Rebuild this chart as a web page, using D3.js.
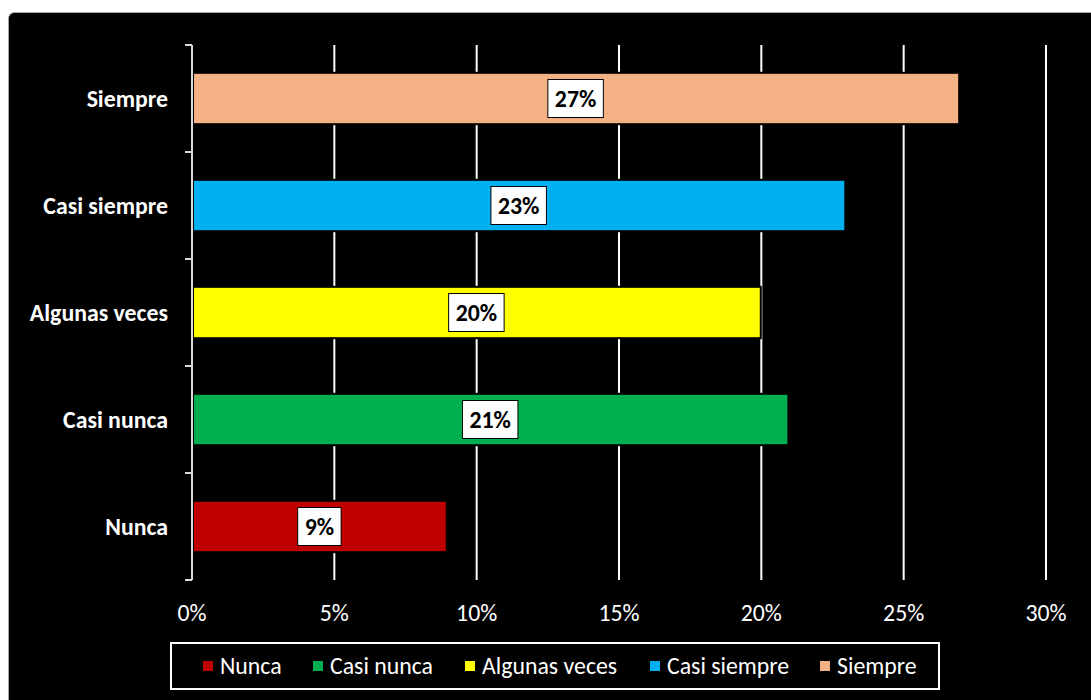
<!DOCTYPE html>
<html>
<head>
<meta charset="utf-8">
<script src="https://cdn.jsdelivr.net/npm/d3@7"></script>
<style>
  html, body { margin: 0; padding: 0; background: #fff; }
  svg { display: block; font-family: Carlito, Lato, sans-serif; }
</style>
</head>
<body>
<div id="chart"></div>
<script>
// data
const categories = ["Nunca", "Casi nunca", "Algunas veces", "Casi siempre", "Siempre"];
const values = [0.0895, 0.2095, 0.1998, 0.2295, 0.2695];
const colors = ["#C00000", "#00B050", "#FFFF00", "#00B0F0", "#F4B183"];
const xTicks = [0, 0.05, 0.10, 0.15, 0.20, 0.25, 0.30];

const W = 1091, H = 700;
const margin = {top: 45, right: 45, bottom: 120, left: 192};
const fontSize = 23.8;

const svg = d3.select("#chart").append("svg")
    .attr("width", W)
    .attr("height", H);

// black chart area
svg.append("rect")
    .attr("x", 8.5).attr("y", 12.5)
    .attr("width", W + 20).attr("height", H + 20)
    .attr("rx", 6)
    .attr("fill", "#000")
    .attr("stroke", "#a6a6a6")
    .attr("stroke-width", 1);

const x = d3.scaleLinear()
    .domain([0, 0.30])
    .range([margin.left, 1046]);

const y = d3.scaleBand()
    .domain(categories.slice().reverse())
    .range([margin.top, 580])
    .paddingInner(0.52)
    .paddingOuter(0.26);

const plot = svg.append("g");

// vertical gridlines
plot.append("g")
    .selectAll("line")
    .data(xTicks.slice(1))
    .join("line")
    .attr("x1", d => x(d)).attr("x2", d => x(d))
    .attr("y1", margin.top).attr("y2", 580)
    .attr("stroke", "#fff")
    .attr("stroke-width", 2);

// bars
plot.append("g")
    .selectAll("rect")
    .data(categories)
    .join("rect")
    .attr("x", x(0) + 1)
    .attr("y", d => y(d))
    .attr("width", (d, i) => x(values[i]) - x(0) - 1)
    .attr("height", y.bandwidth())
    .attr("fill", (d, i) => colors[i])
    .attr("stroke", "#000")
    .attr("stroke-width", 2);

// y axis line + ticks
const yAxis = plot.append("g");
yAxis.append("line")
    .attr("x1", x(0)).attr("x2", x(0))
    .attr("y1", margin.top).attr("y2", 580)
    .attr("stroke", "#d9d9d9").attr("stroke-width", 2);
const bounds = d3.range(categories.length + 1).map(i => 580 - i * (535 / categories.length));
yAxis.selectAll("line.tick")
    .data(bounds)
    .join("line")
    .attr("class", "tick")
    .attr("x1", x(0) - 7).attr("x2", x(0))
    .attr("y1", d => d).attr("y2", d => d)
    .attr("stroke", "#d9d9d9").attr("stroke-width", 2);

// category labels
yAxis.selectAll("text")
    .data(categories)
    .join("text")
    .attr("x", 168)
    .attr("y", d => y(d) + y.bandwidth() / 2)
    .attr("dy", "0.35em")
    .attr("text-anchor", "end")
    .attr("fill", "#fff")
    .attr("font-weight", "bold")
    .attr("font-size", fontSize)
    .text(d => d);

// x tick labels
plot.append("g")
    .selectAll("text")
    .data(xTicks)
    .join("text")
    .attr("x", d => x(d))
    .attr("y", 613)
    .attr("dy", "0.35em")
    .attr("text-anchor", "middle")
    .attr("fill", "#fff")
    .attr("font-size", fontSize)
    .text(d => d3.format(".0%")(d));

// value labels
const lab = plot.append("g")
    .selectAll("g")
    .data(categories)
    .join("g")
    .attr("transform", (d, i) => `translate(${(x(0) + x(values[i])) / 2},${y(d) + y.bandwidth() / 2})`);
lab.append("text")
    .attr("text-anchor", "middle")
    .attr("dy", "0.35em")
    .attr("font-weight", "bold")
    .attr("font-size", fontSize)
    .attr("fill", "#000")
    .text((d, i) => d3.format(".0%")(values[i]));
lab.each(function () {
    const g = d3.select(this);
    const bb = g.select("text").node().getBBox();
    g.insert("rect", "text")
        .attr("x", bb.x - 7).attr("y", -19)
        .attr("width", bb.width + 14).attr("height", 38)
        .attr("fill", "#fff")
        .attr("stroke", "#000")
        .attr("stroke-width", 1);
});

// legend
const legend = svg.append("g");
legend.append("rect")
    .attr("x", 171).attr("y", 643)
    .attr("width", 768).attr("height", 46)
    .attr("fill", "none")
    .attr("stroke", "#fff")
    .attr("stroke-width", 2);
const legX = [203, 313, 465, 650, 820];
const items = legend.selectAll("g.item")
    .data(categories)
    .join("g")
    .attr("class", "item")
    .attr("transform", (d, i) => `translate(${legX[i]},666)`);
items.append("rect")
    .attr("x", 0).attr("y", -5)
    .attr("width", 10).attr("height", 10)
    .attr("fill", (d, i) => colors[i]);
items.append("text")
    .attr("x", 17)
    .attr("dy", "0.35em")
    .attr("fill", "#fff")
    .attr("font-size", fontSize)
    .text(d => d);
</script>
</body>
</html>
